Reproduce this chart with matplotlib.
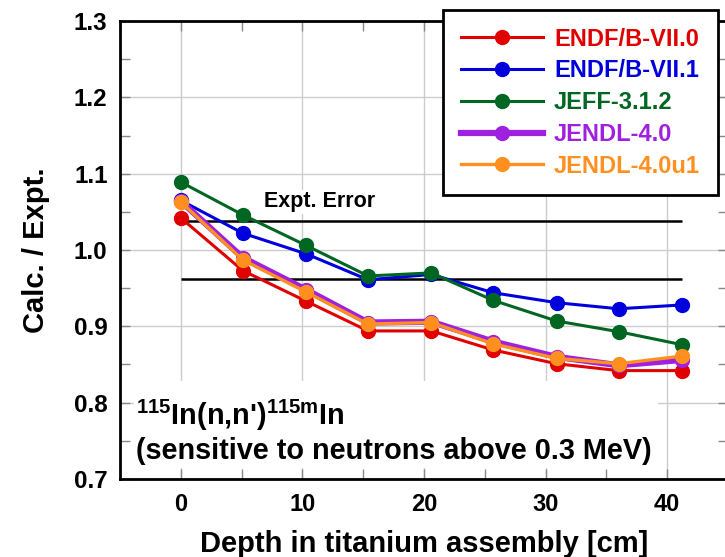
import matplotlib
matplotlib.use("Agg")
import matplotlib.pyplot as plt
from matplotlib.ticker import MultipleLocator, FormatStrFormatter, FixedLocator
from matplotlib.patches import Rectangle

plt.rcParams['font.family'] = ['Liberation Sans', 'DejaVu Sans']
plt.rcParams['font.weight'] = 'bold'
plt.rcParams['mathtext.fontset'] = 'custom'
plt.rcParams['mathtext.rm'] = 'Liberation Sans:bold'
plt.rcParams['mathtext.bf'] = 'Liberation Sans:bold'
plt.rcParams['mathtext.it'] = 'Liberation Sans:bold'

# ---- data ----
depth = [0.0, 5.1, 10.3, 15.4, 20.6, 25.7, 30.9, 36.0, 41.2]
endf70 = [1.042, 0.973, 0.933, 0.894, 0.894, 0.869, 0.851, 0.842, 0.842]
endf71 = [1.065, 1.022, 0.995, 0.961, 0.968, 0.944, 0.931, 0.923, 0.928]
jeff312 = [1.089, 1.046, 1.006, 0.966, 0.970, 0.934, 0.907, 0.893, 0.876]
jendl40 = [1.064, 0.990, 0.948, 0.905, 0.906, 0.880, 0.860, 0.849, 0.856]
jendl40u1 = [1.063, 0.987, 0.945, 0.903, 0.905, 0.877, 0.858, 0.851, 0.861]
labels = ['ENDF/B-VII.0', 'ENDF/B-VII.1', 'JEFF-3.1.2', 'JENDL-4.0', 'JENDL-4.0u1']
colors = ['#e00000', '#0000dd', '#006622', '#a020e0', '#ff9020']
widths = [2.2, 2.2, 2.2, 4.5, 2.4]
expt_err_upper = 1.038
expt_err_lower = 0.962
xticks = [0, 10, 20, 30, 40]
yticks = [0.7, 0.8, 0.9, 1.0, 1.1, 1.2, 1.3]

fig = plt.figure(figsize=(7.25, 5.57), dpi=100)
ax = fig.add_axes([120/725, (557-479)/557, 608/725, 458/557])

ax.set_xlim(-5, 45)
ax.set_ylim(0.7, 1.3)
ax.xaxis.set_major_locator(FixedLocator(xticks))
ax.xaxis.set_minor_locator(MultipleLocator(5))
ax.yaxis.set_major_locator(FixedLocator(yticks))
ax.yaxis.set_minor_locator(MultipleLocator(0.05))
ax.yaxis.set_major_formatter(FormatStrFormatter('%.1f'))
ax.grid(True, which='major', color='#cccccc', lw=1.0, zorder=0)
ax.set_axisbelow(True)
ax.tick_params(which='both', direction='in', top=True, right=True,
               length=7, width=1, color='#888888')
ax.tick_params(axis='x', labelsize=17, pad=10)
ax.tick_params(axis='y', labelsize=17.5, pad=9)
for s in ax.spines.values():
    s.set_linewidth(2)
    s.set_color('black')

# experimental error band lines
ax.hlines([expt_err_upper, expt_err_lower], min(depth), max(depth),
          colors='black', lw=1.8, zorder=4)
ax.text(11.4, 1.063, 'Expt. Error', fontsize=15.5, fontweight='bold',
        ha='center', va='center', zorder=5,
        bbox=dict(facecolor='white', edgecolor='none', pad=1))

series = [endf70, endf71, jeff312, jendl40, jendl40u1]
for vals, lab, col, lw in zip(series, labels, colors, widths):
    ax.plot(depth, vals, '-o', color=col, lw=lw, ms=10, label=lab, zorder=6)

# annotation box
ax.add_patch(Rectangle((0.023, 0.024), 0.862, 0.19, transform=ax.transAxes,
                       facecolor='white', edgecolor='none', zorder=3))
ax.text(0.026, 0.118, r"$^{115}$In(n,n')$^{115m}$In", transform=ax.transAxes,
        fontsize=20.8, fontweight='bold', ha='left', va='baseline', zorder=5)
ax.text(0.026, 0.044, "(sensitive to neutrons above 0.3 MeV)", transform=ax.transAxes,
        fontsize=20.8, fontweight='bold', ha='left', va='baseline', zorder=5)

ax.set_xlabel('Depth in titanium assembly [cm]', fontsize=21, fontweight='bold', labelpad=10)
ax.set_ylabel('Calc. / Expt.', fontsize=21, fontweight='bold', labelpad=17)

leg = ax.legend(loc='upper left', bbox_to_anchor=(443/725, 1 - 10/557),
                bbox_transform=fig.transFigure, borderaxespad=0,
                fontsize=17, handlelength=3.5, handletextpad=0.45,
                labelspacing=0.37, borderpad=0.75, fancybox=False,
                framealpha=1, edgecolor='black', labelcolor='linecolor')
leg.get_frame().set_linewidth(2)
leg.set_zorder(10)
for t in leg.get_texts():
    t.set_fontweight('bold')

fig.savefig('out.png', dpi=100)
